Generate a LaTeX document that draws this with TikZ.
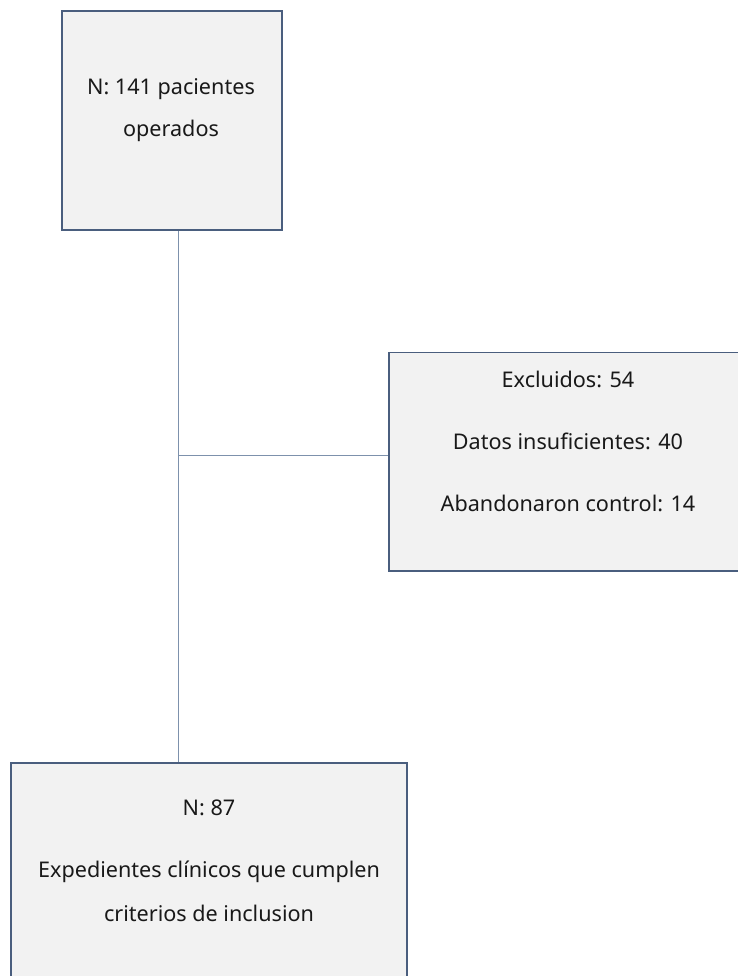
\documentclass[tikz,border=0pt]{standalone}
\usepackage{fontspec}
\setmainfont{Noto Sans}
\definecolor{boxborder}{RGB}{74,94,126}
\definecolor{boxfill}{RGB}{242,242,242}
\definecolor{linkcol}{RGB}{125,145,172}
\definecolor{txt}{RGB}{25,25,25}
\begin{document}
\begin{tikzpicture}[x=1bp,y=1bp,
  flowbox/.style={draw=boxborder, line width=1.8bp, fill=boxfill, inner sep=0pt},
  link/.style={draw=linkcol, line width=1bp},
  lbl/.style={anchor=base, inner sep=0pt, text=txt, font=\fontsize{21.6bp}{25bp}\selectfont}]
\useasboundingbox (0,0) rectangle (738,976);
\clip (0,0) rectangle (738,976);
\fill[white] (0,0) rectangle (738,976);
\node[flowbox, minimum width=220bp, minimum height=219bp] (top) at (172,855.5) {};
\node[flowbox, minimum width=361bp, minimum height=218.5bp] (excl) at (569.5,514.25) {};
\node[flowbox, minimum width=396bp, minimum height=220bp] (bot) at (209,103) {};
\coordinate (j) at (178.5,520.5);
\draw[link] (top.south -| j) -- (bot.north -| j);
\draw[link] (j) -- (excl.west |- j);
\node[lbl] (t1) at (171,881) {N: 141 pacientes};
\node[lbl] (t2) at (171,839) {operados};
\node[lbl] (e1) at (568,588) {Excluidos: 54};
\node[lbl] (e2) at (568,526) {Datos insuficientes: 40};
\node[lbl] (e3) at (568,464) {Abandonaron control: 14};
\node[lbl] (b1) at (209,160) {N: 87};
\node[lbl] (b2) at (209,98) {Expedientes clínicos que cumplen};
\node[lbl] (b3) at (209,54) {criterios de inclusion};
\end{tikzpicture}
\end{document}
